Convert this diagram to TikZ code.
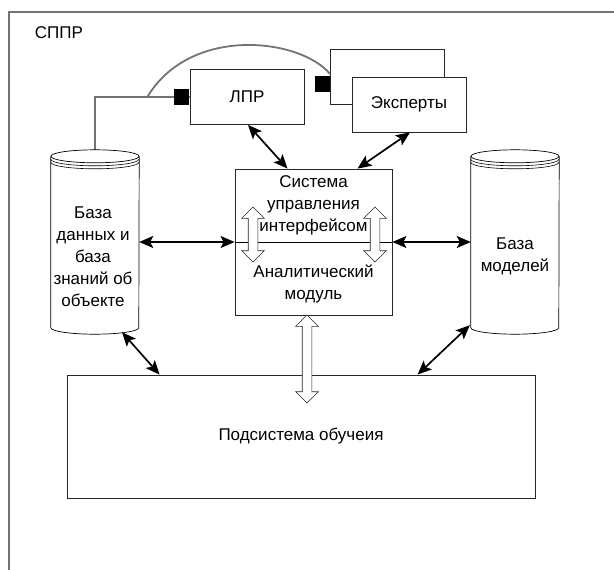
\documentclass[tikz,border=0pt]{standalone}
\usepackage{fontspec}
\setmainfont{Liberation Sans}
\usetikzlibrary{arrows.meta,shapes.arrows,calc}

\tikzset{
	blok/.style={draw=black!85, fill=white, line width=0.8pt, minimum width=114pt, minimum height=55pt, inner sep=0pt},
	strelka/.style={{Stealth[length=14pt,width=12pt,inset=3pt]}-{Stealth[length=14pt,width=12pt,inset=3pt]}, line width=1.7pt},
	polaya/.style={double arrow, draw=black!85, fill=white, line width=0.7pt, shape border rotate=90, minimum width=22pt, double arrow head extend=6.5pt, inner sep=4.5pt},
	kabel/.style={draw=black!55, line width=1.8pt},
	kvadrat/.style={fill=black, minimum width=15pt, minimum height=16pt, inner sep=0pt},
	tekst/.style={align=center, inner sep=0pt}
}

\begin{document}
\begin{tikzpicture}[x=1pt, y=-1pt, every node/.style={font=\fontsize{17}{22}\selectfont}]
	\useasboundingbox (0,0) rectangle (614,570);
	\draw[draw=black!55, line width=1.3pt] (9,570) |- (614,12);
	\node[tekst] (sppr) at (59,33) {СППР};

	\node[blok] (lpr) at (247,97) {ЛПР};
	\node[blok] (ekspz) at (387.5,77) {};
	\node[blok] (eksp) at (409,104.5) {Эксперты};
	\node[draw=black!85, fill=white, line width=0.8pt, minimum width=157pt, minimum height=146pt] (upr) at (313.5,242) {};
	\node[minimum width=88pt, minimum height=184pt, inner sep=0pt] (bd) at (95,242) {};
	\node[minimum width=88pt, minimum height=184pt, inner sep=0pt] (bm) at (515,242) {};
	\node[draw=black!85, line width=0.8pt, minimum width=468pt, minimum height=123pt] (obuch) at (301,436.5) {Подсистема обучеия};

	\coordinate (razv) at (147,97.5);
	\draw[kabel] (bd.north) |- (lpr.west);
	\draw[kabel] (razv) .. controls (190,25) and (300,38) .. ($(ekspz.west)+(0,-3)$);
	\node[kvadrat, anchor=east] (kvl) at (lpr.west) {};
	\node[kvadrat, anchor=east] (kve) at ($(ekspz.west)+(0,6.5)$) {};

	\foreach \c in {bd,bm} {
		\draw[fill=white, line width=0.7pt] ($(\c.north west)+(0,6.5)$) -- ($(\c.south west)+(0,-6.5)$) arc[start angle=180, end angle=0, x radius=44, y radius=6.5] -- ($(\c.north east)+(0,6.5)$);
		\draw[fill=white, line width=0.7pt] ($(\c.north)+(0,6.5)$) ellipse[x radius=44, y radius=6.5];
		\foreach \d in {9.5,12.5}
			\draw[line width=0.6pt] ($(\c.north west)+(0,\d)$) arc[start angle=180, end angle=0, x radius=44, y radius=6.5];
	}
	\node[tekst] (bdtxt) at (93,257) {База\\данных и\\база\\знаний об\\объекте};
	\node[tekst] (bmtxt) at (515,256) {База\\моделей};

	\draw[line width=0.8pt] (upr.west) -- (upr.east);
	\node[tekst] (uprtxt) at (313.5,205) {Система\\управления\\интерфейсом};
	\node[tekst] (anal) at (313.5,284) {Аналитический\\модуль};
	\node[polaya, minimum height=55pt] (pl) at (253,234.5) {};
	\node[polaya, minimum height=55pt] (pr) at (375,234.5) {};
	\node[polaya, minimum height=88pt] (pn) at (307,359) {};

	\draw[strelka] ($(lpr.south)+(1,0)$) -- ($(upr.north)+(-26,0)$);
	\draw[strelka] ($(eksp.south)+(1,0)$) -- ($(upr.north)+(44,0)$);
	\draw[strelka] (bd.east) -- (upr.west);
	\draw[strelka] (upr.east) -- (bm.west);
	\draw[strelka] ($(bd.south)+(27,-2)$) -- ($(obuch.north west)+(93,0)$);
	\draw[strelka] ($(bm.south west)+(-1,-9)$) -- ($(obuch.north west)+(351,0)$);
\end{tikzpicture}
\end{document}
